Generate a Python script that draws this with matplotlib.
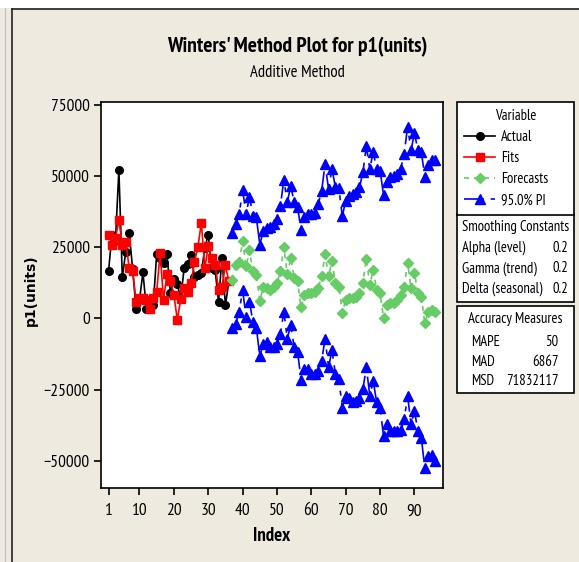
import matplotlib
matplotlib.use('Agg')
import matplotlib.pyplot as plt
from matplotlib.patches import Rectangle
from matplotlib.lines import Line2D

NARROW = ['PT Sans Narrow', 'Roboto Condensed', 'Archivo Narrow', 'Liberation Sans']
plt.rcParams['font.family'] = NARROW

# --- data ---
actual_idx = list(range(1, 37))
actual = [16700, 29500, 27200, 52300, 14500, 23400, 30100, 17500, 3500, 6500,
          16200, 3500, 4400, 4700, 22700, 21300, 19500, 22500, 8900, 14000,
          12000, 7100, 17700, 19100, 22400, 14700, 15200, 16000, 24800, 29500,
          17700, 17000, 5900, 21300, 4700, 13000]
fits = [29500, 26000, 28400, 34500, 26000, 27000, 17700, 16800, 5900, 7300,
        7300, 6500, 3500, 7100, 9400, 23000, 6500, 15700, 13200, 8300,
        -400, 6700, 10600, 9400, 12400, 19900, 25200, 33700, 17700, 25400,
        21300, 18900, 10000, 11200, 18700, 13000]

fc_idx = list(range(37, 97))
forecasts = [13600, 18900, 19800, 27200, 18300, 23900, 16600, 15400, 6100, 11200, 10600, 10100,
             11000, 12400, 16600, 25000, 15600, 21300, 14200, 13000, 3900, 8300, 8900, 8900,
             9300, 10600, 14800, 22500, 14800, 20100, 12400, 11200, 2000, 6500, 7100, 7100,
             7700, 8900, 12400, 21000, 11800, 17100, 10100, 8900, 250, 4700, 5300, 5300,
             6500, 8300, 11200, 19500, 10600, 16000, 8900, 7700, -1700, 2400, 2900, 2400]
upper = [30100, 33100, 36600, 45200, 36600, 42800, 36000, 35500, 26000, 30700, 31900, 32100,
         33100, 34900, 39600, 48800, 40800, 46700, 40800, 39200, 31000, 35500, 36600, 36600,
         37200, 40200, 44900, 54400, 45500, 52600, 46100, 45900, 36000, 41400, 43100, 43700,
         44300, 46100, 51400, 60500, 52600, 58500, 52600, 52000, 43400, 47900, 49600, 50200,
         50800, 52600, 57900, 67400, 59100, 65200, 59100, 58500, 49900, 53800, 55800, 55800]
lower = [-3500, -1800, 2400, 10000, 600, 5900, -1200, -3300, -13200, -8900, -8300, -10000,
         -10000, -8900, -5300, 2400, -7100, -2400, -10000, -11800, -21500, -17700, -17700, -19500,
         -19500, -18300, -14800, -7100, -17100, -11200, -19500, -21300, -31300, -27200, -27800, -29500,
         -29000, -27800, -24800, -17100, -27200, -21900, -29500, -31300, -41400, -37200, -39600, -39600,
         -39600, -39200, -35500, -27200, -37200, -32500, -39600, -42000, -52600, -48500, -47900, -50200]

x_ticks = [1, 10, 20, 30, 40, 50, 60, 70, 80, 90]
y_ticks = [-50000, -25000, 0, 25000, 50000, 75000]

smoothing_names = ['Alpha (level)', 'Gamma (trend)', 'Delta (seasonal)']
smoothing_vals = ['0.2', '0.2', '0.2']
accuracy_names = ['MAPE', 'MAD', 'MSD']
accuracy_vals = ['50', '6867', '71832117']

BG = '#EEEAE0'
W, H = 579, 562


def fx(px):
    return px / W


def fy(py):
    return 1 - py / H


fig = plt.figure(figsize=(W / 100, H / 100), dpi=100, facecolor=BG)

# outer window frame
fig.add_artist(Rectangle((0, fy(8)), 1, 8 / H, transform=fig.transFigure,
                         facecolor='white', edgecolor='none'))
fig.add_artist(Line2D([fx(12), 1], [fy(8.5), fy(8.5)], transform=fig.transFigure,
                      color='#222222', lw=1.2))
fig.add_artist(Line2D([fx(12), fx(12)], [0, fy(8.5)], transform=fig.transFigure,
                      color='#222222', lw=1.2))
fig.add_artist(Line2D([fx(4.5), fx(4.5)], [0, fy(8)], transform=fig.transFigure,
                      color='#bbbbbb', lw=0.8))

ax = fig.add_axes([fx(101), fy(488), (443 - 101) / W, (488 - 102) / H])
ax.set_facecolor('white')

ax.plot(actual_idx, actual, color='black', lw=1.2, marker='o', ms=5.5, label='Actual')
ax.plot(actual_idx, fits, color='red', lw=1.2, marker='s', ms=5.5, label='Fits')
ax.plot(fc_idx, forecasts, color='#66CC66', lw=1.2, ls=(0, (3, 3)), marker='D', ms=5.5,
        label='Forecasts')
pi_style = dict(color='blue', lw=1.2, ls=(0, (12, 4, 3, 4)), marker='^', ms=7)
ax.plot(fc_idx, upper, label='95.0% PI', **pi_style)
ax.plot(fc_idx, lower, **pi_style)

ax.set_xlim(-1.2, 98.3)
ax.set_ylim(-59600, 76100)
ax.set_xticks(x_ticks)
ax.set_yticks(y_ticks)
ax.tick_params(direction='out', length=5, width=1.2, labelsize=12.5, pad=3, colors='black')
ax.tick_params(axis='x', pad=6)
for s in ax.spines.values():
    s.set_linewidth(1.2)

ax.set_ylabel('p1(units)', fontweight='bold', family='DejaVu Sans', fontsize=10)
ax.yaxis.set_label_coords(-0.184, 0.513)
ax.set_xlabel('Index', fontweight='bold', fontsize=13.5)
ax.xaxis.set_label_coords(0.5, -0.1)

fig.text(fx(297), fy(47), "Winters' Method Plot for p1(units)", ha='center', va='center',
         fontsize=15.5, fontweight='bold')
fig.text(fx(297), fy(73), 'Additive Method', ha='center', va='center', fontsize=12)

# legend box
handles, labels = ax.get_legend_handles_labels()
leg = fig.legend(handles, labels, title='Variable', loc='upper left',
                 bbox_to_anchor=(fx(457), fy(102), (574 - 457) / W, 0), mode='expand',
                 fontsize=10.5, title_fontsize=10.5, frameon=True, fancybox=False,
                 edgecolor='black', framealpha=1, borderpad=0.5, labelspacing=0.48,
                 handlelength=2.1, handletextpad=0.4, borderaxespad=0)
leg.get_frame().set_linewidth(1.2)


def info_box(top, bottom, title, names, vals, name_x, val_x, row_y):
    fig.add_artist(Rectangle((fx(457), fy(bottom)), (574 - 457) / W, (bottom - top) / H,
                             transform=fig.transFigure, facecolor='white',
                             edgecolor='black', lw=1.2))
    fig.text(fx(515.5), fy(top + 13.5), title, ha='center', va='center', fontsize=10.5)
    for name, val, y in zip(names, vals, row_y):
        fig.text(fx(name_x), fy(y), name, ha='left', va='center', fontsize=10.5)
        fig.text(fx(val_x), fy(y), val, ha='right', va='center', fontsize=10.5)


info_box(214, 302, 'Smoothing Constants', smoothing_names, smoothing_vals,
         462, 568, [248, 268.5, 289])
info_box(306, 393, 'Accuracy Measures', accuracy_names, accuracy_vals,
         471.5, 558.5, [342, 362, 381])

fig.savefig('out.png', dpi=100, facecolor=BG)
